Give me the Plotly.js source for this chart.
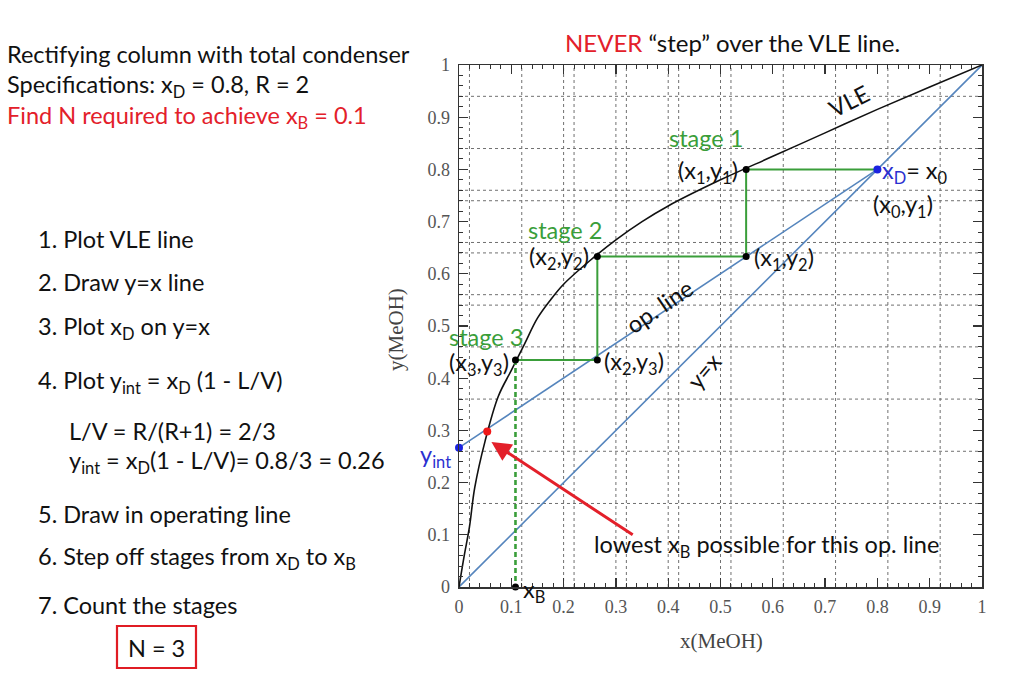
<!DOCTYPE html>
<html>
<head>
<meta charset="utf-8">
<script src="https://cdn.plot.ly/plotly-3.0.1.min.js"></script>
<style>
  html, body { margin: 0; padding: 0; background: #fff; }
  #chart { width: 1024px; height: 680px; }
</style>
</head>
<body>
<div id="chart"></div>
<script>
// ---- data ----
const vleX = [0, 0.01, 0.02, 0.03, 0.05, 0.075, 0.1, 0.125, 0.15, 0.175, 0.2, 0.25, 0.3, 0.35, 0.4, 0.5, 0.6, 0.7, 0.8, 0.9, 1.0];
const vleY = [0, 0.06, 0.115, 0.19, 0.28, 0.365, 0.415, 0.465, 0.515, 0.55, 0.58, 0.625, 0.665, 0.70, 0.73, 0.78, 0.825, 0.87, 0.915, 0.958, 1.0];
const diagX = [0, 1];
const diagY = [0, 1];
const opX = [0, 0.8];
const opY = [0.267, 0.8];
const stepX = [0.8, 0.549, 0.549, 0.2645, 0.2645, 0.108];
const stepY = [0.8, 0.8, 0.633, 0.633, 0.435, 0.435];
const dropX = [0.108, 0.108];
const dropY = [0.435, 0];
const stagePtX = [0.549, 0.549, 0.2645, 0.2645, 0.108, 0.108];
const stagePtY = [0.8, 0.633, 0.633, 0.435, 0.435, 0];
const bluePtX = [0.8, 0];
const bluePtY = [0.8, 0.267];
const pinchX = [0.054];
const pinchY = [0.298];
const tickVals = [0, 0.1, 0.2, 0.3, 0.4, 0.5, 0.6, 0.7, 0.8, 0.9, 1];
const tickText = ['0', '0.1', '0.2', '0.3', '0.4', '0.5', '0.6', '0.7', '0.8', '0.9', '1'];
const gridXs = [0.02, 0.12, 0.2, 0.22, 0.3, 0.32, 0.4, 0.42, 0.5, 0.52, 0.62, 0.72, 0.82, 0.92];
const gridYs = [0.16, 0.26, 0.36, 0.46, 0.54, 0.56, 0.64, 0.66, 0.74, 0.76, 0.84, 0.94];

// ---- styling ----
const SANS = 'Lato, "Open Sans", sans-serif';
const SERIF = '"Liberation Serif", "DejaVu Serif", serif';
const GREEN = '#3a9e3a';
const BLUE_LINE = '#5585bd';
const BLUE_TXT = '#2a2fd0';
const RED = '#e3202a';
const LBL = 23.5;   // chart label size
const TXT = 23.5;   // left text size

// plot area in pixels: x 459..982, y 65..587
const L = 459, R = 982, T = 65, B = 587;
const px = v => (v - L) / (R - L);
const py = v => (B - v) / (B - T);

const traces = [
  {x: diagX, y: diagY, mode: 'lines', line: {color: BLUE_LINE, width: 1.6}, hoverinfo: 'skip'},
  {x: opX, y: opY, mode: 'lines', line: {color: BLUE_LINE, width: 1.6}, hoverinfo: 'skip'},
  {x: vleX, y: vleY, mode: 'lines', line: {color: '#111', width: 1.6, shape: 'spline', smoothing: 1}, hoverinfo: 'skip'},
  {x: stepX, y: stepY, mode: 'lines', line: {color: GREEN, width: 2}, hoverinfo: 'skip'},
  {x: dropX, y: dropY, mode: 'lines', line: {color: GREEN, width: 2.6, dash: '5px,3px'}, hoverinfo: 'skip'},
  {x: stagePtX, y: stagePtY, mode: 'markers', marker: {color: '#000', size: 7}, cliponaxis: false, hoverinfo: 'skip'},
  {x: bluePtX, y: bluePtY, mode: 'markers', marker: {color: '#1a22e0', size: 8}, cliponaxis: false, hoverinfo: 'skip'},
  {x: pinchX, y: pinchY, mode: 'markers', marker: {color: '#f01818', size: 8}, cliponaxis: false, hoverinfo: 'skip'}
];

const shapes = [];
gridXs.forEach(g => shapes.push({type: 'line', layer: 'below', xref: 'x', yref: 'paper', x0: g, x1: g, y0: 0, y1: 1,
  line: {color: '#707070', width: 1, dash: 'dot'}}));
gridYs.forEach(g => shapes.push({type: 'line', layer: 'below', xref: 'paper', yref: 'y', x0: 0, x1: 1, y0: g, y1: g,
  line: {color: '#707070', width: 1, dash: 'dot'}}));
// N = 3 box
shapes.push({type: 'rect', xref: 'paper', yref: 'paper', x0: px(117), x1: px(196), y0: py(668), y1: py(626),
  line: {color: '#e01c24', width: 2.2}});

function t(text, x, y, opts) {
  return Object.assign({text: text, x: x, y: y, xref: 'x', yref: 'y', showarrow: false,
    font: {family: SANS, size: LBL, color: '#111'}}, opts || {});
}
function pt(text, x, y, opts) {
  return Object.assign({text: text, x: px(x), y: py(y), xref: 'paper', yref: 'paper', showarrow: false,
    xanchor: 'left', yanchor: 'middle', font: {family: SANS, size: TXT, color: '#111'}}, opts || {});
}

const annotations = [
  // chart labels
  t('VLE', 0.745, 0.932, {textangle: -27}),
  t('stage 1', 0.472, 0.86, {font: {family: SANS, size: LBL, color: GREEN}}),
  t('(x<sub>1</sub>,y<sub>1</sub>)', 0.476, 0.795),
  t('<span style="color:' + BLUE_TXT + '">x<sub>D</sub></span>= x<sub>0</sub>', 0.805, 0.795, {xanchor: 'left'}),
  t('(x<sub>0</sub>,y<sub>1</sub>)', 0.849, 0.730),
  t('stage 2', 0.203, 0.684, {font: {family: SANS, size: LBL, color: GREEN}}),
  t('(x<sub>2</sub>,y<sub>2</sub>)', 0.191, 0.630),
  t('(x<sub>1</sub>,y<sub>2</sub>)', 0.621, 0.628),
  t('op. line', 0.384, 0.538, {textangle: -34}),
  t('stage 3', 0.051, 0.479, {font: {family: SANS, size: LBL, color: GREEN}}),
  t('(x<sub>3</sub>,y<sub>3</sub>)', 0.038, 0.427),
  t('(x<sub>2</sub>,y<sub>3</sub>)', 0.334, 0.429),
  t('y=x', 0.468, 0.414, {textangle: -50}),
  pt('y<sub>int</sub>', 453, 456, {xanchor: 'right', font: {family: SANS, size: LBL, color: BLUE_TXT}}),
  pt('x<sub>B</sub>', 521, 591, {font: {family: SANS, size: LBL, color: '#111'}}),
  t('lowest x<sub>B</sub> possible for this op. line', 0.587, 0.078),
  // red arrow
  {x: 0.062, y: 0.278, ax: 0.335, ay: 0.098, xref: 'x', yref: 'y', axref: 'x', ayref: 'y', text: '',
   showarrow: true, arrowhead: 2, arrowsize: 1.3, arrowwidth: 3, arrowcolor: RED},
  // axis titles
  pt('x(MeOH)', 721, 641, {xanchor: 'center', font: {family: SERIF, size: 21, color: '#444'}}),
  pt('y(MeOH)', 396, 330, {xanchor: 'center', textangle: -90, font: {family: SERIF, size: 21, color: '#444'}}),
  // top message
  pt('<span style="color:' + RED + '">NEVER</span> \u201cstep\u201d over the VLE line.', 732, 42, {xanchor: 'center', font: {family: SANS, size: 24, color: '#111'}}),
  // left text
  pt('Rectifying column with total condenser', 5, 54),
  pt('Specifications: x<sub>D</sub> = 0.8, R = 2', 5, 86),
  pt('Find N required to achieve x<sub>B</sub> = 0.1', 5, 117, {font: {family: SANS, size: TXT, color: RED}}),
  pt('1. Plot VLE line', 36, 239),
  pt('2. Draw y=x line', 36, 282),
  pt('3. Plot x<sub>D</sub> on y=x', 36, 328),
  pt('4. Plot y<sub>int</sub> = x<sub>D</sub> (1 - L/V)', 36, 382),
  pt('L/V = R/(R+1) = 2/3', 67, 431),
  pt('y<sub>int</sub> = x<sub>D</sub>(1 - L/V)= 0.8/3 = 0.26', 67, 462),
  pt('5. Draw in operating line', 36, 514),
  pt('6. Step off stages from x<sub>D</sub> to x<sub>B</sub>', 36, 558),
  pt('7. Count the stages', 36, 605),
  pt('N = 3', 156, 648, {xanchor: 'center'})
];

const axisCommon = {
  range: [0, 1], tickmode: 'array', tickvals: tickVals, ticktext: tickText,
  ticks: 'inside', ticklen: 9, tickwidth: 1.3, tickcolor: '#333',
  minor: {dtick: 0.02, ticks: 'inside', ticklen: 4, tickwidth: 1, tickcolor: '#333', showgrid: false},
  showline: true, linecolor: '#333', linewidth: 1.5, mirror: 'ticks',
  showgrid: false, zeroline: false, fixedrange: true,
  tickfont: {family: SERIF, size: 18, color: '#555'}
};

const layout = {
  width: 1024, height: 680,
  margin: {l: L, r: 1024 - R, t: T, b: 680 - B, pad: 0},
  paper_bgcolor: '#fff', plot_bgcolor: '#fff',
  showlegend: false,
  xaxis: Object.assign({}, axisCommon, {ticklabelstandoff: 3}),
  yaxis: Object.assign({}, axisCommon, {ticklabelstandoff: 4}),
  shapes: shapes,
  annotations: annotations
};

Plotly.newPlot('chart', traces, layout, {displayModeBar: false, staticPlot: true});
</script>
</body>
</html>
